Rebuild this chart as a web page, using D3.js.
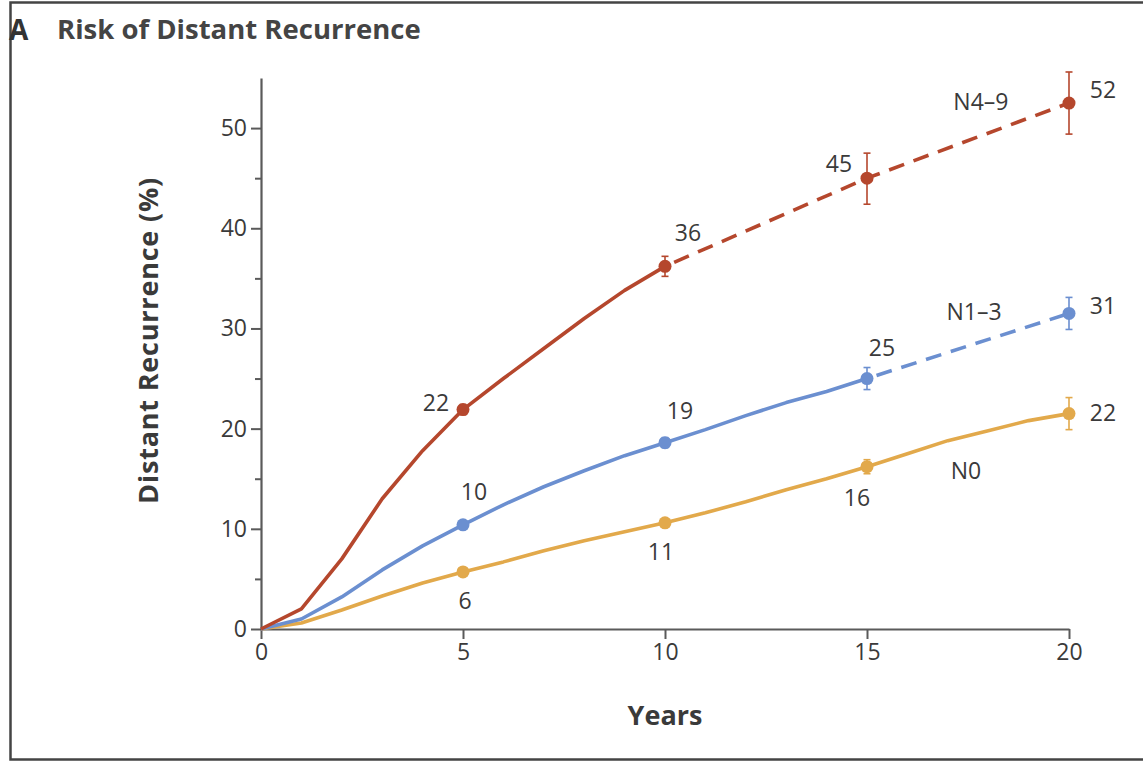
<!DOCTYPE html>
<html>
<head>
<meta charset="utf-8">
<script src="https://cdn.jsdelivr.net/npm/d3@7"></script>
<style>
  html, body { margin: 0; padding: 0; background: #fff; }
  svg { display: block; font-family: "Open Sans", "Lato", sans-serif; }
</style>
</head>
<body>
<svg id="chart" width="1143" height="761"></svg>
<script>
// ---- data ----
const years = [0, 1, 2, 3, 4, 5, 6, 7, 8, 9, 10, 11, 12, 13, 14, 15, 16, 17, 18, 19, 20];
const n49Solid = [0, 2.0, 7.0, 13.0, 17.8, 21.9, 25.0, 28.0, 31.0, 33.8, 36.2];
const n49DashYears = [10, 15, 20];
const n49Dash = [36.2, 45.0, 52.5];
const n13Solid = [0, 1.0, 3.2, 5.9, 8.3, 10.4, 12.4, 14.2, 15.8, 17.3, 18.6, 19.9, 21.3, 22.6, 23.7, 25.0];
const n13DashYears = [15, 20];
const n13Dash = [25.0, 31.5];
const n0Solid = [0, 0.6, 1.9, 3.3, 4.6, 5.7, 6.7, 7.8, 8.8, 9.7, 10.6, 11.6, 12.7, 13.9, 15.0, 16.2, 17.5, 18.8, 19.8, 20.8, 21.5];
const markerYears = [5, 10, 15, 20];
const n49Markers = [21.9, 36.2, 45.0, 52.5];
const n13Markers = [10.4, 18.6, 25.0, 31.5];
const n0Markers = [5.7, 10.6, 16.2, 21.5];
const n49Err = [[21.4, 22.4], [35.2, 37.2], [42.4, 47.5], [49.4, 55.6]];
const n13Err = [[10.0, 10.8], [18.1, 19.1], [23.9, 26.1], [29.9, 33.1]];
const n0Err = [[5.4, 6.0], [10.2, 11.0], [15.5, 16.9], [19.9, 23.1]];
const n49Labels = ["22", "36", "45", "52"];
const n13Labels = ["10", "19", "25", "31"];
const n0Labels = ["6", "11", "16", "22"];
const seriesNames = ["N4\u20139", "N1\u20133", "N0"];
const seriesNamePos = [[17.82, 52.7], [17.65, 31.7], [17.45, 15.9]];
const xTicks = [0, 5, 10, 15, 20];
const yTicks = [0, 10, 20, 30, 40, 50];
const yMinorTicks = [5, 15, 25, 35, 45];

// ---- layout / style ----
const colors = ["#b5472d", "#6b8fd0", "#e2a94b"];
const labelOffsets = [
  [[-27, -8], [23, -34], [-28, -15], [34, -14]],
  [[11, -34], [15, -33], [15, -32], [34, -8]],
  [[2, 28], [-4, 28], [-10, 30], [34, -2]]
];
const numSize = 23;

const svg = d3.select("#chart");
const x = d3.scaleLinear().domain([0, 20]).range([261, 1069]);
const y = d3.scaleLinear().domain([0, 55]).range([629, 78]);
const axisColor = "#5a5a5a";
const textColor = "#3a3a3a";

// frame
svg.append("path")
  .attr("d", "M1143,2.5 H10.5 V759.5 H1143")
  .attr("fill", "none").attr("stroke", "#444").attr("stroke-width", 2.5);

// title
svg.append("text").attr("x", 9).attr("y", 40)
  .attr("font-size", 28).attr("font-weight", 700).attr("fill", "#333").text("A");
svg.append("text").attr("x", 57).attr("y", 39)
  .attr("font-size", 27.5).attr("font-weight", 700).attr("fill", "#444")
  .text("Risk of Distant Recurrence");

// axes
const xAxis = d3.axisBottom(x).tickValues(xTicks).tickSize(10).tickPadding(5).tickSizeOuter(0);
const gx = svg.append("g").attr("transform", `translate(0,${y(0)})`).call(xAxis);
const yAxis = d3.axisLeft(y).tickValues(yTicks).tickSize(10).tickPadding(4).tickSizeOuter(0);
const gy = svg.append("g").attr("transform", `translate(${x(0)},0)`).call(yAxis);
const yMinor = d3.axisLeft(y).tickValues(yMinorTicks).tickSize(6).tickFormat("").tickSizeOuter(0);
const gym = svg.append("g").attr("transform", `translate(${x(0)},0)`).call(yMinor);
gym.select(".domain").remove();
[gx, gy, gym].forEach(g => {
  g.selectAll(".domain").attr("stroke", axisColor).attr("stroke-width", 2.2);
  g.selectAll(".tick line").attr("stroke", axisColor).attr("stroke-width", 2);
  g.selectAll(".tick text").attr("fill", textColor).attr("font-size", numSize)
    .attr("font-family", "'Open Sans', Lato, sans-serif");
});

// axis titles
svg.append("text").attr("x", x(10)).attr("y", 725).attr("text-anchor", "middle")
  .attr("font-size", 27).attr("font-weight", 700).attr("fill", "#3a3a3a").text("Years");
svg.append("text")
  .attr("transform", `translate(158,${y(28.8)}) rotate(-90)`)
  .attr("text-anchor", "middle")
  .attr("font-size", 27).attr("font-weight", 700).attr("fill", "#3a3a3a")
  .attr("letter-spacing", 0.8)
  .text("Distant Recurrence (%)");

const line = d3.line().x(d => x(d[0])).y(d => y(d[1]));

function drawSeries(i, solidVals, dashYears, dashVals, markers, errs, labels) {
  const c = colors[i];
  const solid = solidVals.map((v, k) => [years[k], v]);
  svg.append("path").datum(solid).attr("d", line)
    .attr("fill", "none").attr("stroke", c).attr("stroke-width", 3.6)
    .attr("stroke-linejoin", "round");
  if (dashYears) {
    const dash = dashVals.map((v, k) => [dashYears[k], v]);
    svg.append("path").datum(dash).attr("d", line)
      .attr("fill", "none").attr("stroke", c).attr("stroke-width", 3.6)
      .attr("stroke-dasharray", "16,10").attr("stroke-dashoffset", -10);
  }
  const g = svg.append("g");
  errs.forEach((e, k) => {
    const xx = x(markerYears[k]);
    g.append("line").attr("x1", xx).attr("x2", xx).attr("y1", y(e[0])).attr("y2", y(e[1]))
      .attr("stroke", c).attr("stroke-width", 1.6);
    [e[0], e[1]].forEach(v => g.append("line")
      .attr("x1", xx - 3.5).attr("x2", xx + 3.5).attr("y1", y(v)).attr("y2", y(v))
      .attr("stroke", c).attr("stroke-width", 1.6));
  });
  markers.forEach((v, k) => {
    g.append("circle").attr("cx", x(markerYears[k])).attr("cy", y(v)).attr("r", 6.5).attr("fill", c);
  });
  labels.forEach((t, k) => {
    const o = labelOffsets[i][k];
    svg.append("text").attr("x", x(markerYears[k]) + o[0]).attr("y", y(markers[k]) + o[1])
      .attr("text-anchor", "middle").attr("dominant-baseline", "central")
      .attr("font-size", numSize).attr("fill", textColor).text(t);
  });
  svg.append("text").attr("x", x(seriesNamePos[i][0])).attr("y", y(seriesNamePos[i][1]))
    .attr("text-anchor", "middle").attr("dominant-baseline", "central")
    .attr("font-size", numSize).attr("fill", textColor).text(seriesNames[i]);
}

drawSeries(2, n0Solid, null, null, n0Markers, n0Err, n0Labels);
drawSeries(1, n13Solid, n13DashYears, n13Dash, n13Markers, n13Err, n13Labels);
drawSeries(0, n49Solid, n49DashYears, n49Dash, n49Markers, n49Err, n49Labels);
</script>
</body>
</html>
